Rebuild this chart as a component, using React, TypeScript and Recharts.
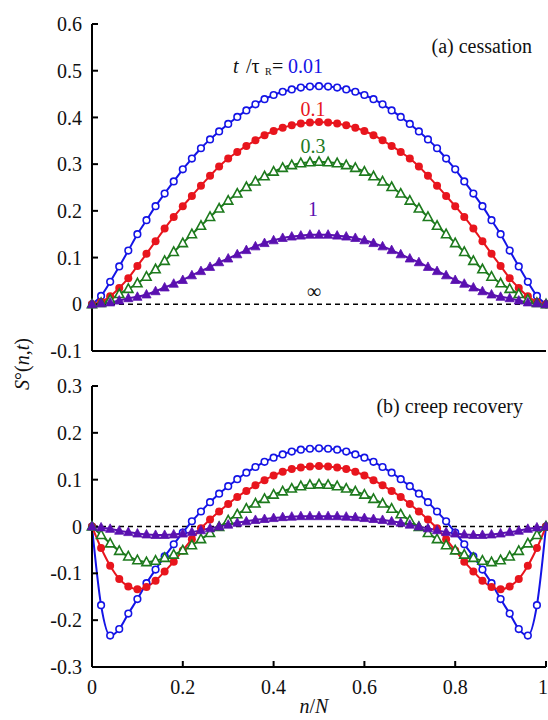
import { Line, LineChart, ReferenceLine, XAxis, YAxis } from 'recharts';

const FONT = '"Liberation Serif", "Times New Roman", Tinos, "DejaVu Serif", serif';
const BLUE = '#1414e6';
const RED = '#e8151d';
const GREEN = '#1d7a1d';
const PURPLE = '#5a10b0';

const nValues = [
  0, 0.02, 0.04, 0.06, 0.08, 0.1, 0.12, 0.14, 0.16, 0.18, 0.2, 0.22, 0.24, 0.26, 0.28, 0.3, 0.32,
  0.34, 0.36, 0.38, 0.4, 0.42, 0.44, 0.46, 0.48, 0.5, 0.52, 0.54, 0.56, 0.58, 0.6, 0.62, 0.64, 0.66,
  0.68, 0.7, 0.72, 0.74, 0.76, 0.78, 0.8, 0.82, 0.84, 0.86, 0.88, 0.9, 0.92, 0.94, 0.96, 0.98, 1,
];

// (a) cessation
const cessation001 = [
  0, 0.018, 0.048, 0.081, 0.115, 0.15, 0.18, 0.21, 0.237, 0.263, 0.289, 0.312, 0.334, 0.353, 0.37,
  0.386, 0.401, 0.415, 0.428, 0.439, 0.448, 0.455, 0.46, 0.464, 0.466, 0.467, 0.466, 0.464, 0.46,
  0.455, 0.448, 0.439, 0.428, 0.415, 0.401, 0.386, 0.37, 0.353, 0.334, 0.312, 0.289, 0.263, 0.237,
  0.21, 0.18, 0.15, 0.115, 0.081, 0.048, 0.018, 0,
];
const cessation01 = [
  0, 0.005, 0.017, 0.035, 0.056, 0.082, 0.108, 0.135, 0.162, 0.187, 0.21, 0.232, 0.254, 0.275, 0.295,
  0.312, 0.326, 0.339, 0.351, 0.362, 0.371, 0.378, 0.383, 0.387, 0.389, 0.39, 0.389, 0.387, 0.383,
  0.378, 0.371, 0.362, 0.351, 0.339, 0.326, 0.312, 0.295, 0.275, 0.254, 0.232, 0.21, 0.187, 0.162,
  0.135, 0.108, 0.082, 0.056, 0.035, 0.017, 0.005, 0,
];
const cessation03 = [
  0, 0.003, 0.01, 0.022, 0.033, 0.045, 0.059, 0.075, 0.093, 0.112, 0.131, 0.15, 0.168, 0.187, 0.205,
  0.222, 0.237, 0.251, 0.263, 0.274, 0.284, 0.292, 0.298, 0.302, 0.304, 0.305, 0.304, 0.302, 0.298,
  0.292, 0.284, 0.274, 0.263, 0.251, 0.237, 0.222, 0.205, 0.187, 0.168, 0.15, 0.131, 0.112, 0.093,
  0.075, 0.059, 0.045, 0.033, 0.022, 0.01, 0.003, 0,
];
const cessation1 = [
  0, 0.002, 0.004, 0.008, 0.013, 0.016, 0.021, 0.028, 0.036, 0.044, 0.052, 0.062, 0.071, 0.08, 0.09,
  0.098, 0.107, 0.116, 0.124, 0.131, 0.137, 0.142, 0.145, 0.147, 0.149, 0.149, 0.149, 0.147, 0.145,
  0.142, 0.137, 0.131, 0.124, 0.116, 0.107, 0.098, 0.09, 0.08, 0.071, 0.062, 0.052, 0.044, 0.036,
  0.028, 0.021, 0.016, 0.013, 0.008, 0.004, 0.002, 0,
];

// (b) creep recovery
const recovery001 = [
  0, -0.168, -0.233, -0.219, -0.186, -0.155, -0.121, -0.092, -0.064, -0.038, -0.013, 0.011, 0.032,
  0.052, 0.07, 0.086, 0.101, 0.115, 0.127, 0.138, 0.147, 0.154, 0.16, 0.164, 0.166, 0.167, 0.166,
  0.164, 0.16, 0.154, 0.147, 0.138, 0.127, 0.115, 0.101, 0.086, 0.07, 0.052, 0.032, 0.011, -0.013,
  -0.038, -0.064, -0.092, -0.121, -0.155, -0.186, -0.219, -0.233, -0.168, 0,
];
const recovery01 = [
  0, -0.046, -0.084, -0.112, -0.128, -0.134, -0.129, -0.116, -0.096, -0.075, -0.051, -0.027, -0.004,
  0.015, 0.032, 0.048, 0.063, 0.076, 0.088, 0.099, 0.109, 0.117, 0.123, 0.126, 0.128, 0.129, 0.128,
  0.126, 0.123, 0.117, 0.109, 0.099, 0.088, 0.076, 0.063, 0.048, 0.032, 0.015, -0.004, -0.027,
  -0.051, -0.075, -0.096, -0.116, -0.129, -0.134, -0.128, -0.112, -0.084, -0.046, 0,
];
const recovery03 = [
  0, -0.018, -0.036, -0.052, -0.064, -0.072, -0.076, -0.073, -0.067, -0.06, -0.051, -0.04, -0.027,
  -0.014, -0.001, 0.013, 0.026, 0.038, 0.049, 0.059, 0.068, 0.075, 0.081, 0.086, 0.089, 0.09, 0.089,
  0.086, 0.081, 0.075, 0.068, 0.059, 0.049, 0.038, 0.026, 0.013, -0.001, -0.014, -0.027, -0.04,
  -0.051, -0.06, -0.067, -0.073, -0.076, -0.072, -0.064, -0.052, -0.036, -0.018, 0,
];
const recovery1 = [
  0, -0.002, -0.005, -0.009, -0.012, -0.015, -0.017, -0.018, -0.018, -0.017, -0.015, -0.012, -0.008,
  -0.004, 0, 0.004, 0.008, 0.011, 0.014, 0.016, 0.018, 0.02, 0.021, 0.022, 0.022, 0.022, 0.022,
  0.022, 0.021, 0.02, 0.018, 0.016, 0.014, 0.011, 0.008, 0.004, 0, -0.004, -0.008, -0.012, -0.015,
  -0.017, -0.018, -0.018, -0.017, -0.015, -0.012, -0.009, -0.005, -0.002, 0,
];

const xTicks = [0, 0.2, 0.4, 0.6, 0.8, 1];
const topTicks = [-0.1, 0, 0.1, 0.2, 0.3, 0.4, 0.5, 0.6];
const bottomTicks = [-0.3, -0.2, -0.1, 0, 0.1, 0.2, 0.3];

const topData = nValues.map((n, i) => ({
  n,
  a: cessation001[i],
  b: cessation01[i],
  c: cessation03[i],
  d: cessation1[i],
}));
const bottomData = nValues.map((n, i) => ({
  n,
  a: recovery001[i],
  b: recovery01[i],
  c: recovery03[i],
  d: recovery1[i],
}));

type Marker = 'openCircle' | 'dot' | 'openTri' | 'tri';

const series: { key: string; color: string; marker: Marker }[] = [
  { key: 'a', color: BLUE, marker: 'openCircle' },
  { key: 'b', color: RED, marker: 'dot' },
  { key: 'c', color: GREEN, marker: 'openTri' },
  { key: 'd', color: PURPLE, marker: 'tri' },
];

function makeDot(marker: Marker, color: string) {
  return (props: any) => {
    const { cx, cy, index } = props;
    const k = `${marker}-${index}`;
    if (cx == null || cy == null) return <g key={k} />;
    if (marker === 'openCircle')
      return <circle key={k} cx={cx} cy={cy} r={3.3} fill="#fff" stroke={color} strokeWidth={1.6} />;
    if (marker === 'dot') return <circle key={k} cx={cx} cy={cy} r={4} fill={color} />;
    const pts = `${cx},${cy - 5} ${cx - 4.6},${cy + 3.5} ${cx + 4.6},${cy + 3.5}`;
    if (marker === 'openTri')
      return <polygon key={k} points={pts} fill="#fff" stroke={color} strokeWidth={1.6} />;
    return <polygon key={k} points={pts} fill={color} stroke={color} strokeWidth={0.8} />;
  };
}

const axisStyle = { stroke: '#000', strokeWidth: 2 };
const tickStyle = { fontFamily: FONT, fontSize: 20, fill: '#111' };

interface PanelProps {
  data: typeof topData;
  yTicks: number[];
  height: number;
  marginTop: number;
  xAxisHeight: number;
  showXLabels: boolean;
}

function Panel({ data, yTicks, height, marginTop, xAxisHeight, showXLabels }: PanelProps) {
  const domain = [yTicks[0], yTicks[yTicks.length - 1]];
  return (
    <LineChart
      width={548}
      height={height}
      data={data}
      margin={{ top: marginTop, right: 2, bottom: 0, left: 0 }}
    >
      <XAxis
        dataKey="n"
        type="number"
        domain={[0, 1]}
        ticks={xTicks}
        height={xAxisHeight}
        axisLine={axisStyle}
        tickLine={axisStyle}
        tickSize={-6}
        tickMargin={19}
        tick={showXLabels ? tickStyle : false}
      />
      <XAxis
        xAxisId="top"
        orientation="top"
        type="number"
        domain={[0, 1]}
        height={0}
        axisLine={axisStyle}
        tickLine={false}
        tick={false}
      />
      <YAxis
        type="number"
        domain={domain}
        ticks={yTicks}
        width={92}
        axisLine={axisStyle}
        tickLine={axisStyle}
        tickSize={-6}
        tickMargin={16}
        tick={tickStyle}
        interval={0}
      />
      <YAxis
        yAxisId="right"
        orientation="right"
        type="number"
        domain={[0, 1]}
        width={0}
        axisLine={axisStyle}
        tickLine={false}
        tick={false}
      />
      <ReferenceLine y={0} stroke="#000" strokeWidth={1.5} strokeDasharray="5 4" />
      {series.map((s) => (
        <Line
          key={s.key}
          dataKey={s.key}
          type="monotone"
          stroke={s.color}
          strokeWidth={2}
          dot={makeDot(s.marker, s.color)}
          activeDot={false}
          isAnimationActive={false}
        />
      ))}
    </LineChart>
  );
}

export default function App() {
  const t = { fontFamily: FONT, fontSize: 20 };
  return (
    <div style={{ position: 'absolute', left: 0, top: 0, width: 548, height: 720, background: '#fff' }}>
      <div style={{ position: 'absolute', left: 0, top: 0 }}>
        <Panel data={topData} yTicks={topTicks} height={370} marginTop={24} xAxisHeight={19} showXLabels={false} />
      </div>
      <div style={{ position: 'absolute', left: 0, top: 370 }}>
        <Panel data={bottomData} yTicks={bottomTicks} height={350} marginTop={16} xAxisHeight={53} showXLabels />
      </div>
      <svg
        width={548}
        height={720}
        style={{ position: 'absolute', left: 0, top: 0, pointerEvents: 'none' }}
      >
        <text x={532} y={53} textAnchor="end" {...t} fill="#111">(a) cessation</text>
        <text x={233} y={73} {...t} fill="#111" fontStyle="italic">t</text>
        <text x={246} y={73} {...t} fill="#111">/τ</text>
        <text x={265} y={75} fontFamily={FONT} fontSize={10} fill="#111">R</text>
        <text x={272} y={73} {...t} fill="#111">=</text>
        <text x={288} y={73} {...t} fill={BLUE}>0.01</text>
        <text x={313} y={116} textAnchor="middle" {...t} fill={RED}>0.1</text>
        <text x={313} y={153} textAnchor="middle" {...t} fill={GREEN}>0.3</text>
        <text x={313} y={216} textAnchor="middle" {...t} fill={PURPLE}>1</text>
        <text x={314} y={298} textAnchor="middle" {...t} fill="#111">∞</text>
        <text x={523} y={413} textAnchor="end" {...t} fill="#111">(b) creep recovery</text>
        <text transform="translate(29, 364) rotate(-90)" textAnchor="middle" {...t} fill="#111">
          <tspan fontStyle="italic">S</tspan>
          <tspan>°(</tspan>
          <tspan fontStyle="italic">n</tspan>
          <tspan>,</tspan>
          <tspan fontStyle="italic">t</tspan>
          <tspan>)</tspan>
        </text>
        <text x={314} y={713} textAnchor="middle" {...t} fill="#111">
          <tspan fontStyle="italic">n</tspan>
          <tspan>/</tspan>
          <tspan fontStyle="italic">N</tspan>
        </text>
      </svg>
    </div>
  );
}
